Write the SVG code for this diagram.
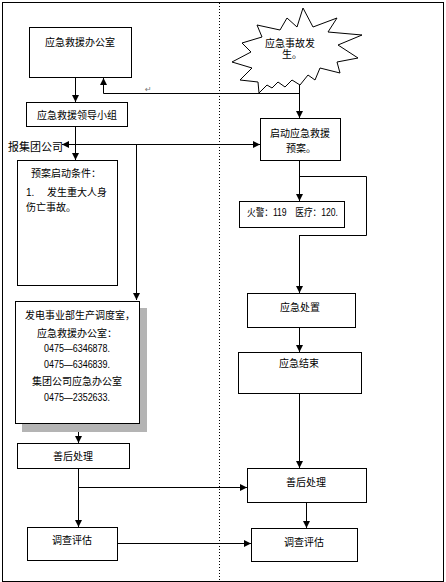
<svg xmlns="http://www.w3.org/2000/svg" width="446" height="582" viewBox="0 0 446 582">
<defs>
<marker id="ah" viewBox="0 0 10 10" refX="10" refY="5" markerWidth="7" markerHeight="7" markerUnits="userSpaceOnUse" orient="auto">
<path d="M0,0 L10,5 L0,10 z" fill="#000"/>
</marker>
<style>
.box{fill:#fff;stroke:#000;stroke-width:1}
.t{font-family:"Liberation Sans","Noto Sans CJK SC",sans-serif;font-size:10px;fill:#000}
.c{text-anchor:middle}
.ln{fill:none;stroke:#000;stroke-width:1}
.ar{fill:none;stroke:#000;stroke-width:1;marker-end:url(#ah)}
</style>
</defs>
<rect x="0" y="0" width="446" height="582" fill="#fff"/>
<rect x="2.5" y="2.5" width="441" height="579" fill="none" stroke="#000" stroke-width="1"/>
<line x1="219.5" y1="3" x2="219.5" y2="581" stroke="#000" stroke-width="1" stroke-dasharray="1,2"/>

<g id="connectors">
<path class="ar" d="M75.5,78 V102"/>
<path class="ln" d="M299.5,85 V93.5 H103.5"/>
<path class="ar" d="M103.5,93.5 V78"/>
<path class="ar" d="M299.5,93 V118"/>
<path class="ar" d="M75.5,127 V160"/>
<path class="ar" d="M136,144.5 H62"/>
<path class="ar" d="M136,144.5 H260"/>
<path class="ar" d="M136.5,144.5 V300"/>
<path class="ar" d="M299.5,160 V201"/>
<path class="ln" d="M299.5,176.5 H366.5 V235.5 H299.5"/>
<path class="ar" d="M299.5,235 V293"/>
<path class="ar" d="M299.5,327 V352"/>
<path class="ar" d="M299.5,393 V468"/>
<path class="ar" d="M78.5,432 V443"/>
<path class="ar" d="M78.5,468 V527"/>
<path class="ar" d="M78.5,487.5 H247"/>
<path class="ar" d="M117,543.5 H251"/>
<path class="ar" d="M306.5,502 V528"/>
</g>

<g id="office">
<rect class="box" x="29.5" y="27.5" width="102" height="50"/>
<text class="t c" x="80" y="46">应急救援办公室</text>
</g>
<text x="145" y="92" font-family="DejaVu Sans,sans-serif" font-size="8" fill="#777">↵</text>

<g id="leader">
<rect class="box" x="26.5" y="102.5" width="101" height="24"/>
<text class="t c" x="77" y="119">应急救援领导小组</text>
</g>

<text class="t" x="8" y="151" style="font-size:11px">报集团公司</text>

<g id="incident">
<polygon class="box" points="259,93 258,82 240,80 252,68 232,62 251,52 242,43 262,37 257,25 280,30 287,18 297,27 303,8 313,27 337,18 328,32 362,35 338,45 358,58 337,62 340,73 320,68 315,80 308,75 300,85 292,80 285,87 278,82 272,88 267,85"/>
<text class="t c" x="290" y="47">应急事故发</text>
<text class="t c" x="292" y="58">生。</text>
</g>

<g id="start">
<rect class="box" x="260.5" y="118.5" width="80" height="42"/>
<text class="t c" x="300" y="137">启动应急救援</text>
<text class="t c" x="301" y="152">预案。</text>
</g>

<g id="conditions">
<rect class="box" x="17.5" y="160.5" width="100" height="125"/>
<text class="t c" x="66" y="177">预案启动条件：</text>
<text class="t" x="26" y="196">1.　 发生重大人身</text>
<text class="t" x="26" y="211">伤亡事故。</text>
</g>

<g id="phone">
<rect class="box" x="239.5" y="201.5" width="105" height="26"/>
<text class="t" x="247" y="216" textLength="91" lengthAdjust="spacingAndGlyphs">火警：119　医疗：120.</text>
</g>

<g id="contacts">
<rect x="22" y="308" width="125" height="124" fill="#b4b4b4"/>
<rect class="box" x="15.5" y="301.5" width="124" height="122"/>
<text class="t" x="25" y="319">发电事业部生产调度室，</text>
<text class="t c" x="77" y="337">应急救援办公室：</text>
<text class="t c" x="77" y="352" textLength="66" lengthAdjust="spacingAndGlyphs">0475—6346878.</text>
<text class="t c" x="77" y="368" textLength="66" lengthAdjust="spacingAndGlyphs">0475—6346839.</text>
<text class="t c" x="77" y="385">集团公司应急办公室</text>
<text class="t c" x="77" y="401" textLength="66" lengthAdjust="spacingAndGlyphs">0475—2352633.</text>
</g>

<g id="handle">
<rect class="box" x="247.5" y="293.5" width="108" height="34"/>
<text class="t c" x="300" y="311">应急处置</text>
</g>

<g id="end">
<rect class="box" x="238.5" y="352.5" width="123" height="41"/>
<text class="t c" x="299" y="367">应急结束</text>
</g>

<g id="aftermath-left">
<rect class="box" x="17.5" y="443.5" width="112" height="25"/>
<text class="t c" x="73" y="460">善后处理</text>
</g>

<g id="aftermath-right">
<rect class="box" x="247.5" y="468.5" width="119" height="34"/>
<text class="t c" x="306" y="486">善后处理</text>
</g>

<g id="survey-left">
<rect class="box" x="27.5" y="527.5" width="90" height="33"/>
<text class="t c" x="72" y="544">调查评估</text>
</g>

<g id="survey-right">
<rect class="box" x="251.5" y="528.5" width="106" height="33"/>
<text class="t c" x="304" y="546">调查评估</text>
</g>
</svg>
